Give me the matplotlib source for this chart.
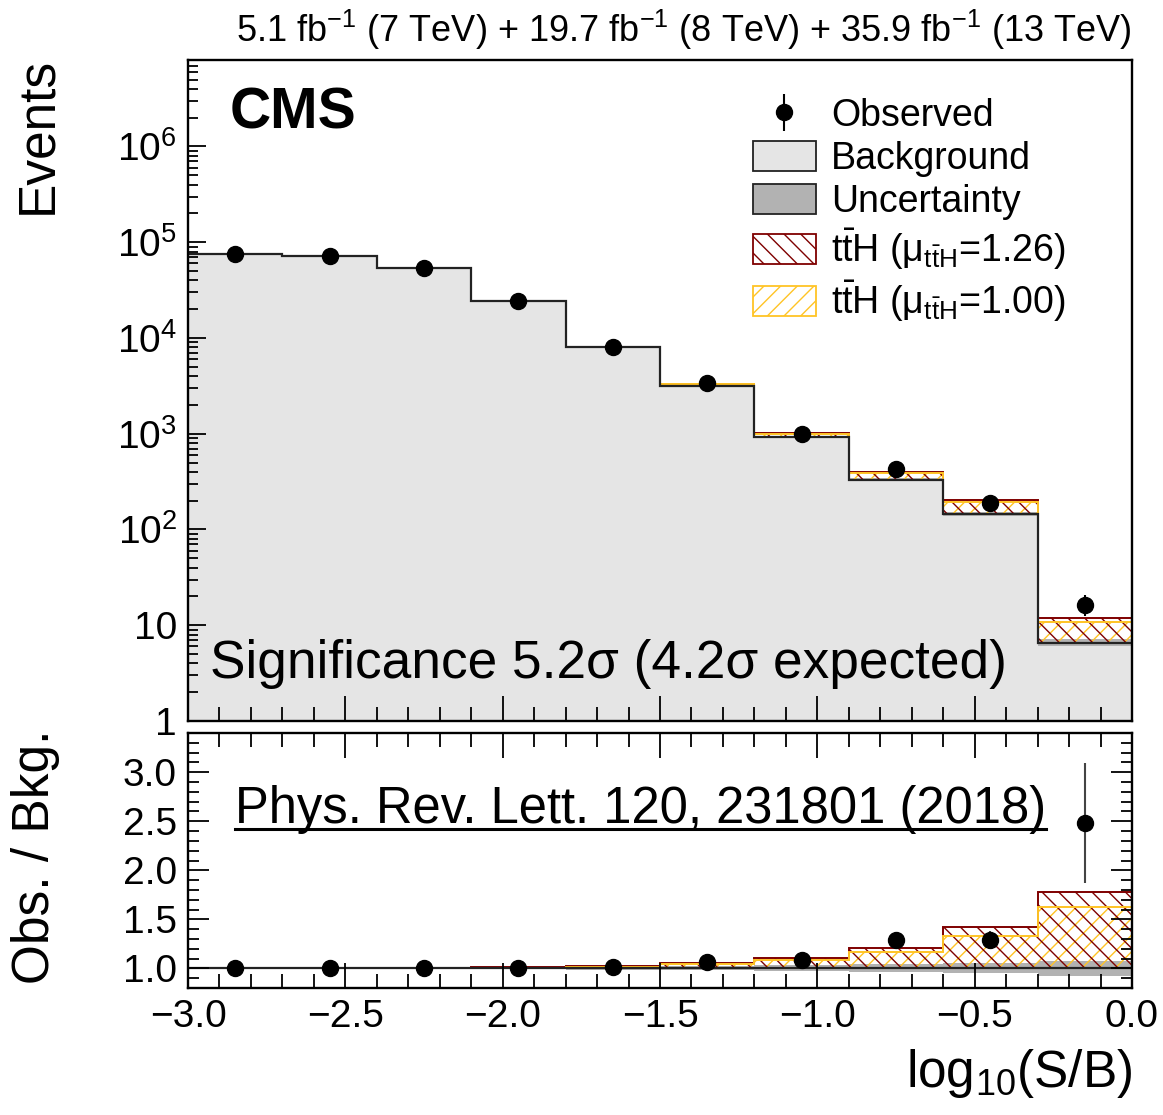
import numpy as np
import matplotlib
matplotlib.use("Agg")
import matplotlib.pyplot as plt
from matplotlib.patches import Patch
from matplotlib.lines import Line2D
from matplotlib.ticker import LogLocator, MultipleLocator, FuncFormatter, NullFormatter

plt.rcParams['font.family'] = ['Liberation Sans', 'DejaVu Sans']
plt.rcParams['mathtext.fontset'] = 'custom'
plt.rcParams['mathtext.rm'] = 'Liberation Sans'
plt.rcParams['mathtext.it'] = 'Liberation Sans:italic'
plt.rcParams['mathtext.bf'] = 'Liberation Sans:bold'
plt.rcParams['hatch.linewidth'] = 1.0
plt.rcParams['axes.unicode_minus'] = True

# ---------------- data ----------------
bin_edges = [-3.0, -2.7, -2.4, -2.1, -1.8, -1.5, -1.2, -0.9, -0.6, -0.3, 0.0]
background = [75100, 71700, 53500, 24200, 7980, 3150, 920, 331, 145, 6.6]
signal_sm = [30, 50, 90, 190, 130, 126, 74, 55, 48, 4.1]
observed = [75200, 71800, 53600, 24250, 8080, 3355, 1003, 427, 187, 16.4]
bkg_unc_rel = [0.01, 0.01, 0.01, 0.01, 0.015, 0.02, 0.03, 0.04, 0.05, 0.08]
mu_fit = 1.26
mu_sm = 1.00

lumi_text = r"5.1 fb$^{-1}$ (7 TeV) + 19.7 fb$^{-1}$ (8 TeV) + 35.9 fb$^{-1}$ (13 TeV)"
signif_text = "Significance 5.2\u03c3 (4.2\u03c3 expected)"
ref_text = "Phys. Rev. Lett. 120, 231801 (2018)"
legend_labels = ["Observed", "Background", "Uncertainty",
                 r"t$\mathrm{\bar{t}}$H ($\mathrm{\mu}_{\mathrm{t\bar{t}H}}$=1.26)",
                 r"t$\mathrm{\bar{t}}$H ($\mathrm{\mu}_{\mathrm{t\bar{t}H}}$=1.00)"]

# ---------------- derived ----------------
edges = np.array(bin_edges)
centers = 0.5 * (edges[:-1] + edges[1:])
bkg = np.array(background, dtype=float)
sig = np.array(signal_sm, dtype=float)
obs = np.array(observed, dtype=float)
unc = np.array(bkg_unc_rel, dtype=float)

C_BKG = '#e5e5e5'
C_UNC = '#b2b2b2'
C_RED = '#7f0000'
C_YEL = '#ffc425'

W, H = 1163, 1115
fig = plt.figure(figsize=(W / 100, H / 100), dpi=100)
L, R = 188 / W, 1132 / W
ax1 = fig.add_axes([L, 1 - 721 / H, R - L, (721 - 60) / H])
ax2 = fig.add_axes([L, 1 - 988 / H, R - L, (988 - 733) / H])

# ---------------- top panel ----------------
ax1.stairs(bkg, edges, baseline=1e-3, fill=True, facecolor=C_BKG, edgecolor='none', lw=0)
ax1.stairs(bkg * (1 + unc), edges, baseline=bkg * (1 - unc), fill=True,
           facecolor=C_UNC, edgecolor='none', lw=0)
ax1.stairs(bkg + mu_sm * sig, edges, baseline=bkg, fill=True, facecolor='none',
           edgecolor=C_YEL, hatch='//', lw=0)
ax1.stairs(bkg + mu_fit * sig, edges, baseline=bkg, fill=True, facecolor='none',
           edgecolor=C_RED, hatch='\\\\', lw=0)
ax1.stairs(bkg + mu_fit * sig, edges, baseline=None, color=C_RED, lw=1.4)
ax1.stairs(bkg + mu_sm * sig, edges, baseline=None, color=C_YEL, lw=1.4)
ax1.stairs(bkg, edges, baseline=None, color='#222222', lw=1.6)
eb = ax1.errorbar(centers, obs, yerr=np.sqrt(obs), fmt='o', color='k', ms=11.5,
                  elinewidth=1.5, capsize=0, zorder=5)

ax1.set_yscale('log')
ax1.set_xlim(edges[0], edges[-1])
ax1.set_ylim(1, 8e6)


def log_fmt(v, pos):
    n = int(round(np.log10(v)))
    if n == 0:
        return "1"
    if n == 1:
        return "10"
    return r"$10^{%d}$" % n


ax1.yaxis.set_major_locator(LogLocator(base=10, numticks=20))
ax1.yaxis.set_minor_locator(LogLocator(base=10, subs=np.arange(2, 10), numticks=20))
ax1.yaxis.set_major_formatter(FuncFormatter(log_fmt))
ax1.yaxis.set_minor_formatter(NullFormatter())
ax1.xaxis.set_major_locator(MultipleLocator(0.5))
ax1.xaxis.set_minor_locator(MultipleLocator(0.1))
ax1.tick_params(which='both', direction='in', top=False, right=False,
                labelbottom=False, labelsize=28, width=1.3, pad=8)
ax1.tick_params(which='major', length=13)
ax1.tick_params(which='minor', length=7)
ax1.tick_params(axis='x', which='major', length=18)
ax1.tick_params(axis='x', which='minor', length=10)

ax1.set_ylabel("Events", fontsize=37, loc='top')
ax1.yaxis.set_label_coords(-0.133, 1.005)
ax1.yaxis.label.set_va('bottom')

ax1.text(1.0, 1.012, lumi_text, transform=ax1.transAxes, ha='right', va='bottom', fontsize=26)
ax1.text(0.0445, 0.897, "CMS", transform=ax1.transAxes, ha='left', va='baseline',
         fontsize=41, fontweight='bold')
ax1.text(0.0233, 0.065, signif_text, transform=ax1.transAxes, ha='left', va='baseline',
         fontsize=38.3)

handles = [eb,
           Patch(facecolor=C_BKG, edgecolor='#222222', lw=1.3),
           Patch(facecolor=C_UNC, edgecolor='#222222', lw=1.3),
           Patch(facecolor='none', edgecolor=C_RED, hatch='\\\\', lw=1.3),
           Patch(facecolor='none', edgecolor=C_YEL, hatch='//', lw=1.3)]
leg = ax1.legend(handles, legend_labels, loc='upper left', bbox_to_anchor=(0.598, 0.942),
                 frameon=False, fontsize=27, handlelength=1.7, handleheight=0.85,
                 handletextpad=0.4, labelspacing=0.18, borderpad=0, borderaxespad=0)

# ---------------- ratio panel ----------------
ratio = obs / bkg
ratio_err = np.sqrt(obs) / bkg
ones = np.ones_like(bkg)
ax2.stairs(ones + unc, edges, baseline=ones - unc, fill=True, facecolor=C_UNC,
           edgecolor='none', lw=0)
ax2.stairs(ones + mu_sm * sig / bkg, edges, baseline=ones, fill=True, facecolor='none',
           edgecolor=C_YEL, hatch='//', lw=0)
ax2.stairs(ones + mu_fit * sig / bkg, edges, baseline=ones, fill=True, facecolor='none',
           edgecolor=C_RED, hatch='\\\\', lw=0)
ax2.stairs(ones + mu_fit * sig / bkg, edges, baseline=None, color=C_RED, lw=1.4)
ax2.stairs(ones + mu_sm * sig / bkg, edges, baseline=None, color=C_YEL, lw=1.4)
ax2.stairs(ones, edges, baseline=None, color='#222222', lw=1.6)
ax2.errorbar(centers, ratio, yerr=ratio_err, fmt='o', color='k', ecolor='#444444',
             ms=11.5, elinewidth=1.5, capsize=0, zorder=5)

ax2.set_xlim(edges[0], edges[-1])
ax2.set_ylim(0.8, 3.4)
ax2.xaxis.set_major_locator(MultipleLocator(0.5))
ax2.xaxis.set_minor_locator(MultipleLocator(0.1))
ax2.yaxis.set_major_locator(MultipleLocator(0.5))
ax2.yaxis.set_minor_locator(MultipleLocator(0.1))
fmt1 = FuncFormatter(lambda v, p: f"{v:.1f}".replace("-", "\u2212"))
ax2.xaxis.set_major_formatter(fmt1)
ax2.yaxis.set_major_formatter(fmt1)
ax2.tick_params(which='both', direction='in', top=True, right=True, labelsize=28,
                width=1.3, pad=8)
ax2.tick_params(axis='x', which='major', length=18)
ax2.tick_params(axis='x', which='minor', length=10)
ax2.tick_params(axis='y', which='major', length=15)
ax2.tick_params(axis='y', which='minor', length=8)

ax2.set_ylabel("Obs. / Bkg.", fontsize=37, loc='top')
ax2.yaxis.set_label_coords(-0.136, 1.015)
ax2.yaxis.label.set_va('bottom')
ax2.set_xlabel(r"log$_{10}$(S/B)", fontsize=37, loc='right')
ax2.xaxis.set_label_coords(1.0, -0.23)

ref = ax2.text(0.0498, 0.647, ref_text, transform=ax2.transAxes, ha='left',
               va='baseline', fontsize=36.5)

for ax in (ax1, ax2):
    for s in ax.spines.values():
        s.set_linewidth(1.7)

# underline for the reference text
fig.canvas.draw()
rdr = fig.canvas.get_renderer()
bb = ref.get_window_extent(rdr)
base_y = ax2.transAxes.transform((0, 0.647))[1]
inv = fig.transFigure.inverted()
p0 = inv.transform((bb.x0, base_y - 6))
p1 = inv.transform((bb.x1, base_y - 6))
fig.add_artist(Line2D([p0[0], p1[0]], [p0[1], p1[1]], transform=fig.transFigure,
                      color='k', lw=2.2))

fig.savefig("out.png", dpi=100)
